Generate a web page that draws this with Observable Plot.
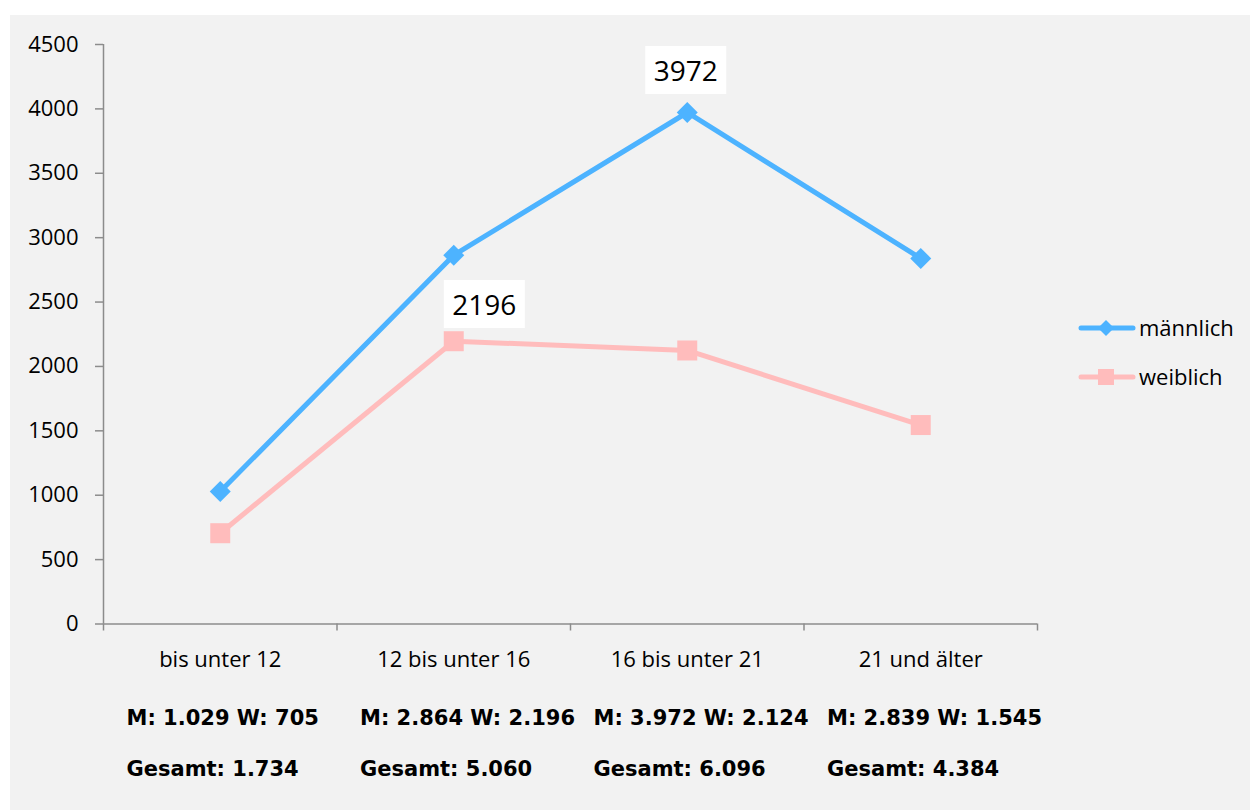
<!DOCTYPE html>
<html>
<head>
<meta charset="utf-8">
<script src="https://cdn.jsdelivr.net/npm/d3@7"></script>
<script src="https://cdn.jsdelivr.net/npm/@observablehq/plot@0.6"></script>
<style>
  html, body { margin: 0; padding: 0; background: #ffffff; }
  #wrap { position: relative; width: 1250px; height: 810px; }
  #chart { position: absolute; left: 10px; top: 15px; }
  #legend { position: absolute; left: 1070px; top: 300px; }
</style>
</head>
<body>
<div id="wrap">
  <div id="chart"></div>
  <svg id="legend" width="180" height="100"></svg>
</div>
<script>
const categories = ["bis unter 12", "12 bis unter 16", "16 bis unter 21", "21 und älter"];
const maennlich = [1029, 2864, 3972, 2839];
const weiblich = [705, 2196, 2124, 1545];
const yTicks = [0, 500, 1000, 1500, 2000, 2500, 3000, 3500, 4000, 4500];
const seriesNames = ["männlich", "weiblich"];
const labelMaennlichIndex = 2;
const labelWeiblichIndex = 1;

const blue = "#4db3ff";
const pink = "#ffbcbc";
const axisGray = "#8c8c8c";

const de = d3.formatLocale({decimal: ",", thousands: ".", grouping: [3], currency: ["", " €"]}).format(",d");

const rows = categories.map((c, i) => ({i, c, m: maennlich[i], w: weiblich[i]}));

const diamondSym = {draw(ctx) { const r = 10.5; ctx.moveTo(0, -r); ctx.lineTo(r, 0); ctx.lineTo(0, r); ctx.lineTo(-r, 0); ctx.closePath(); }};
const squareSym = {draw(ctx) { const h = 10; ctx.rect(-h, -h, 2 * h, 2 * h); }};
const boxSym = {draw(ctx) { ctx.rect(-40.5, -24, 81, 48); }};

const mLabel = rows.filter(d => d.i === labelMaennlichIndex);
const wLabel = rows.filter(d => d.i === labelWeiblichIndex);

const plot = Plot.plot({
  width: 1240,
  height: 795,
  marginLeft: 93,
  marginRight: 213,
  marginTop: 29,
  marginBottom: 186.5,
  style: {background: "#f2f2f2", fontFamily: "'Open Sans', sans-serif", fontSize: "22px", color: "#000"},
  x: {domain: [0, categories.length], axis: null},
  y: {domain: [0, 4500], axis: null},
  marks: [
    Plot.axisY({ticks: yTicks, tickFormat: "d", tickSize: 8, tickPadding: 17, stroke: axisGray, strokeWidth: 1.5, fill: "#000", fontSize: 22, label: null}),
    Plot.axisX({ticks: d3.range(categories.length + 1), tickFormat: () => "", tickSize: 7, stroke: axisGray, strokeWidth: 1.5, label: null}),
    Plot.axisX({ticks: categories.map((c, i) => i + 0.5), tickFormat: v => categories[Math.floor(v)], tickSize: 0, tickPadding: 27, fill: "#000", fontSize: 22, label: null}),
    Plot.ruleX([0], {stroke: axisGray, strokeWidth: 1.5}),
    Plot.ruleY([0], {stroke: axisGray, strokeWidth: 1.5}),
    Plot.line(rows, {x: d => d.i + 0.5, y: "w", stroke: pink, strokeWidth: 5}),
    Plot.dot(rows, {x: d => d.i + 0.5, y: "w", symbol: squareSym, fill: pink, stroke: "none"}),
    Plot.line(rows, {x: d => d.i + 0.5, y: "m", stroke: blue, strokeWidth: 5}),
    Plot.dot(rows, {x: d => d.i + 0.5, y: "m", symbol: diamondSym, fill: blue, stroke: "none"}),
    Plot.dot(mLabel, {x: d => d.i + 0.5, y: "m", symbol: boxSym, fill: "#ffffff", stroke: "none", dy: -42.5, dx: -1.5}),
    Plot.text(mLabel, {x: d => d.i + 0.5, y: "m", text: d => String(d.m), fontSize: 28, fill: "#000", dy: -40, dx: -1.5}),
    Plot.dot(wLabel, {x: d => d.i + 0.5, y: "w", symbol: boxSym, fill: "#ffffff", stroke: "none", dy: -37.2, dx: 30.6}),
    Plot.text(wLabel, {x: d => d.i + 0.5, y: "w", text: d => String(d.w), fontSize: 28, fill: "#000", dy: -34.7, dx: 30.6}),
    Plot.text(rows, {
      x: d => d.i,
      text: d => `M: ${de(d.m)} W: ${de(d.w)}\nGesamt: ${de(d.m + d.w)}`,
      frameAnchor: "bottom", textAnchor: "start", lineAnchor: "top",
      dx: 23, dy: 64, lineHeight: 2.46,
      fontFamily: "'DejaVu Sans', sans-serif", fontWeight: "bold", fontSize: 21, fill: "#000"
    })
  ]
});
document.getElementById("chart").appendChild(plot);

// Legend
const lg = d3.select("#legend");
const legendItems = [
  {name: seriesNames[0], color: blue, sym: "diamond", y: 28},
  {name: seriesNames[1], color: pink, sym: "square", y: 77}
];
legendItems.forEach(it => {
  lg.append("line").attr("x1", 11).attr("x2", 63).attr("y1", it.y).attr("y2", it.y)
    .attr("stroke", it.color).attr("stroke-width", 5).attr("stroke-linecap", "round");
  if (it.sym === "diamond") {
    lg.append("path").attr("d", `M36,${it.y - 8}L44,${it.y}L36,${it.y + 8}L28,${it.y}Z`).attr("fill", it.color);
  } else {
    lg.append("rect").attr("x", 28).attr("y", it.y - 8).attr("width", 16).attr("height", 16).attr("fill", it.color);
  }
  lg.append("text").attr("x", 69).attr("y", it.y + 8).text(it.name)
    .attr("font-family", "'Open Sans', sans-serif").attr("font-size", 22).attr("fill", "#000");
});
</script>
</body>
</html>
